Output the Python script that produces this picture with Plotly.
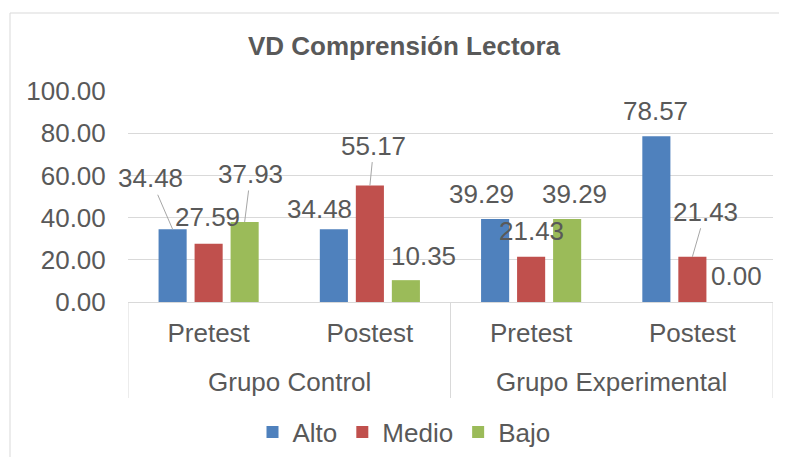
import plotly.graph_objects as go

# ---- data ----
groups = ["Grupo Control", "Grupo Control", "Grupo Experimental", "Grupo Experimental"]
phases = ["Pretest", "Postest", "Pretest", "Postest"]
series_names = ["Alto", "Medio", "Bajo"]
alto = [34.48, 34.48, 39.29, 78.57]
medio = [27.59, 55.17, 21.43, 21.43]
bajo = [37.93, 10.35, 39.29, 0.00]
y_ticks = [0, 20, 40, 60, 80, 100]
title_text = "VD Comprensión Lectora"

# ---- styles ----
colors = ["#4F81BD", "#C0504D", "#9BBB59"]
TEXT = "#595959"
GRID = "#D9D9D9"
FONT = "Liberation Sans, Arial, sans-serif"
FS = 26
OFF = 8  # page body margin
W, H = 787 - OFF, 457 - OFF
L, R, T, B = 128 - OFF, 787 - 773, 91 - OFF, 457 - 302
BARGAP, GROUPGAP = 0.33, 0.22

# label offsets (px): (dx, dy screen, leader line?)
label_offsets = [
    [(-22, -51, True), (-14, -20, False), (-14, -25, False), (-1, -25, False)],
    [(-1, -27, False), (4, -40, True), (0, -26, False), (13, -45, True)],
    [(6, -48, True), (18, -24, False), (7, -25, False), (8, -26, False)],
]

pw = W - L - R
ph = H - T - B
def px(x):  # screen x -> paper fraction
    return (x - OFF - L) / pw
def py(y):  # screen y -> paper fraction
    return (H - B - (y - OFF)) / ph

# category positions (index along the axis)
xs = list(range(len(phases)))

fig = go.Figure()
values = [alto, medio, bajo]
for name, vals, col in zip(series_names, values, colors):
    fig.add_trace(go.Bar(name=name, x=xs, y=vals,
                         marker=dict(color=col, line=dict(width=0))))

slot = (1 - BARGAP) / 3
annotations = []
for si, vals in enumerate(values):
    for ci, v in enumerate(vals):
        dx, dy, line = label_offsets[si][ci]
        xpos = xs[ci] + (si - 1) * slot
        a = dict(x=xpos, y=v, xref="x", yref="y", text=f"{v:.2f}",
                 font=dict(family=FONT, size=FS, color=TEXT))
        if line:
            a.update(showarrow=True, ax=dx, ay=dy, arrowhead=0, arrowwidth=1,
                     arrowcolor="#A6A6A6", standoff=0, startstandoff=0)
        else:
            a.update(showarrow=False, xshift=dx, yshift=-dy)
        annotations.append(a)

# group labels and boundaries, from the group list
shapes = []
uniq = []
for g in groups:
    if g not in uniq:
        uniq.append(g)
bounds = [xs[0] - 0.5]
for g in uniq:
    idx = [i for i, gg in enumerate(groups) if gg == g]
    center = sum(xs[i] for i in idx) / len(idx)
    annotations.append(dict(x=center, xref="x", y=py(382), yref="paper", yanchor="middle",
                            text=g, showarrow=False,
                            font=dict(family=FONT, size=FS, color=TEXT)))
    bounds.append(xs[idx[-1]] + 0.5)
for b in bounds:
    shapes.append(dict(type="line", xref="x", yref="paper", x0=b, x1=b, y0=0, y1=py(398),
                       line=dict(color=GRID, width=1)))

shapes.append(dict(type="rect", xref="paper", yref="paper",
                   x0=px(10), x1=px(800), y0=py(470), y1=py(13),
                   line=dict(color=GRID, width=1), fillcolor="rgba(0,0,0,0)", layer="below"))

fig.update_layout(
    width=W, height=H,
    margin=dict(l=L, r=R, t=T, b=B, pad=0, autoexpand=False),
    paper_bgcolor="white", plot_bgcolor="white",
    barmode="group", bargap=BARGAP, bargroupgap=GROUPGAP,
    font=dict(family=FONT, size=FS, color=TEXT),
    title=dict(text=f"<b>{title_text}</b>", x=px(404), xref="paper", xanchor="center",
               y=1 - (46 - OFF) / H, yref="container", yanchor="middle",
               font=dict(family=FONT, size=FS, color=TEXT)),
    showlegend=True,
    legend=dict(orientation="h", x=px(404), xanchor="center", y=py(432), yanchor="middle",
                font=dict(family=FONT, size=FS, color=TEXT), itemwidth=30,
                traceorder="normal", bgcolor="rgba(0,0,0,0)"),
    xaxis=dict(range=[xs[0] - 0.5, xs[-1] + 0.5], tickvals=xs, ticktext=phases,
               showline=True, linecolor=GRID, linewidth=1, showgrid=False, zeroline=False,
               ticks="outside", ticklen=8, tickcolor="rgba(0,0,0,0)", automargin=False,
               tickfont=dict(family=FONT, size=FS, color=TEXT)),
    yaxis=dict(range=[0, 100], tickvals=y_ticks, tickformat=".2f", showgrid=True,
               gridcolor=GRID, gridwidth=1, zeroline=False, showline=False,
               ticks="outside", ticklen=16, tickcolor="rgba(0,0,0,0)", automargin=False,
               tickfont=dict(family=FONT, size=FS, color=TEXT)),
    annotations=annotations,
    shapes=shapes,
)

fig.write_html("out.html")
